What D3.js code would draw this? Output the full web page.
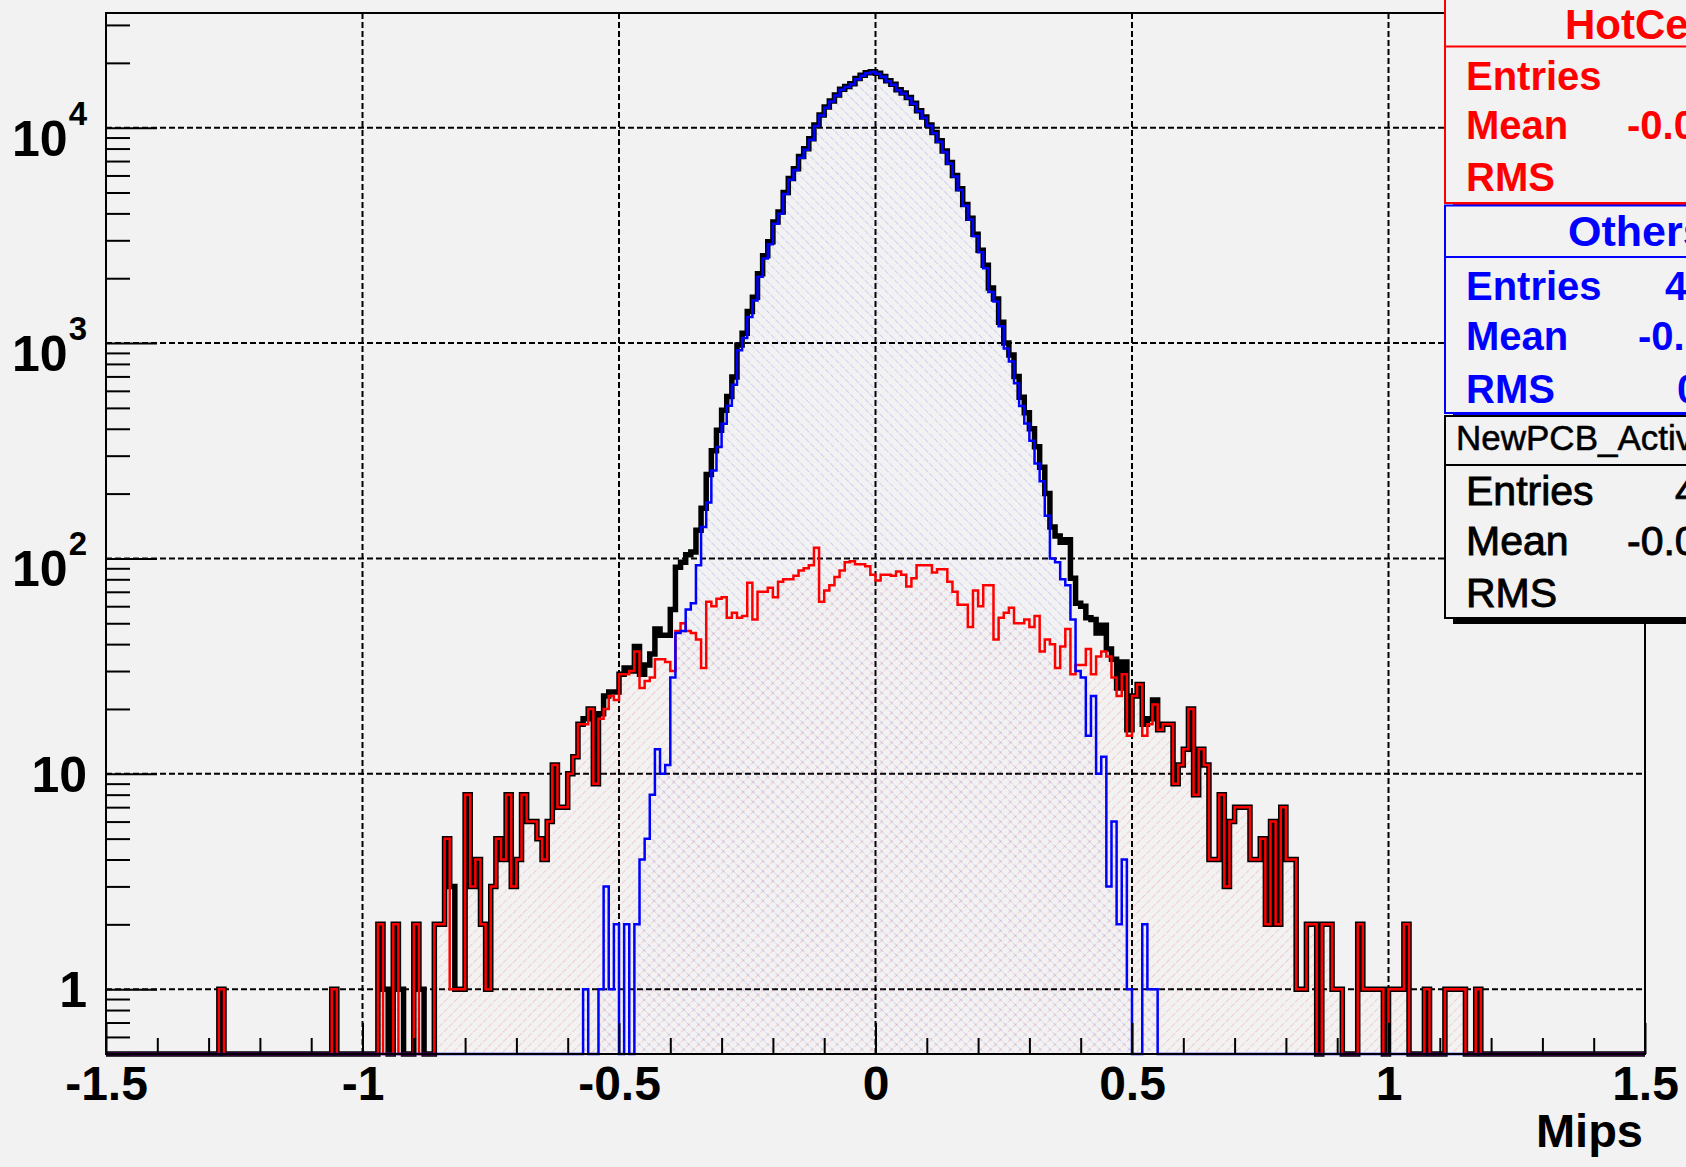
<!DOCTYPE html>
<html>
<head>
<meta charset="utf-8">
<script src="https://cdn.jsdelivr.net/npm/d3@7"></script>
<style>
  html, body { margin: 0; padding: 0; background: #f2f2f2; }
  svg { display: block; }
  text { font-family: "Liberation Sans", Arial, Helvetica, sans-serif; }
</style>
</head>
<body>
<svg id="chart" width="1686" height="1167"></svg>
<script>
// ---- Binning: 300 bins of 0.01 Mips from -1.5 to 1.5 ----
const binLow = -1.5;
const binWidth = 0.01;

// Counts per bin, ten bins per row (row k covers bins 10k .. 10k+9)
const hotCellCounts = [
  0,0,0,0,0,0,0,0,0,0,  0,0,0,0,0,0,0,0,0,0,  0,0,1,0,0,0,0,0,0,0,
  0,0,0,0,0,0,0,0,0,0,  0,0,0,0,1,0,0,0,0,0,  0,0,0,2,0,0,2,0,0,0,
  2,0,0,0,2,2,5,1,1,1,  8,3,4,2,1,3,5,4,8,3,  4,8,6,6,5,4,6,11,7,7,
  10,12,17,17,20,9,18,20,23,22,
  29,29,30,37,25,27,28,34,34,33,
  30,46,50,46,45,42,31,63,60,65,
  66,53,56,53,54,77,52,70,70,73,
  66,78,80,80,83,88,90,93,112,63,
  71,75,82,88,96,97,94,94,92,84,
  79,84,84,83,87,84,74,81,93,93,
  93,86,89,89,78,70,61,61,48,71,
  60,75,75,42,53,56,59,50,50,52,
  48,54,37,42,40,31,39,47,29,32,
  32,38,29,35,37,35,28,23,29,15,
  23,26,15,17,21,16,17,17,9,11,
  13,20,8,13,11,4,4,8,3,6,
  7,7,7,4,4,5,2,6,2,7,
  4,4,1,1,2,2,0,2,2,1,
  1,0,0,0,2,1,1,1,1,0,
  1,1,1,2,0,0,0,1,0,0,
  0,1,1,1,1,0,0,1,0,0,
  0,0,0,0,0,0,0,0,0,0,  0,0,0,0,0,0,0,0,0,0,  0,0,0,0,0,0,0,0,0,0
];

const otherCellCounts = [
  0,0,0,0,0,0,0,0,0,0,  0,0,0,0,0,0,0,0,0,0,  0,0,0,0,0,0,0,0,0,0,
  0,0,0,0,0,0,0,0,0,0,  0,0,0,0,0,0,0,0,0,0,  0,0,0,0,0,0,0,0,0,0,
  0,0,0,0,0,0,0,0,0,0,  0,0,0,0,0,0,0,0,0,0,  0,0,0,0,0,0,0,0,0,0,
  0,0,0,1,0,0,1,3,1,2,
  0,2,0,2,4,5,8,13,10,11,
  28,45,46,58,62,93,140,182,256,329,
  422,511,640,927,1056,1323,1578,2030,2470,2877,
  3584,3982,4920,5730,6367,7252,7900,8787,10188,11387,
  12389,13225,14118,15012,15454,15903,16806,17406,17908,18116,
  17821,17216,16416,15817,14913,14416,13726,12919,11907,11107,
  10207,9414,8611,7711,6822,5930,5139,4339,3752,3129,
  2640,2225,1725,1558,1197,944,821,650,510,423,
  352,276,228,158,100,96,80,75,52,30,
  28,15,23,10,12,3,6,2,4,1,
  0,0,2,1,1,0,0,0,0,0,
  0,0,0,0,0,0,0,0,0,0,  0,0,0,0,0,0,0,0,0,0,  0,0,0,0,0,0,0,0,0,0,
  0,0,0,0,0,0,0,0,0,0,  0,0,0,0,0,0,0,0,0,0,  0,0,0,0,0,0,0,0,0,0,
  0,0,0,0,0,0,0,0,0,0,  0,0,0,0,0,0,0,0,0,0,  0,0,0,0,0,0,0,0,0,0
];

const allCellCounts = [
  0,0,0,0,0,0,0,0,0,0,  0,0,0,0,0,0,0,0,0,0,  0,0,1,0,0,0,0,0,0,0,
  0,0,0,0,0,0,0,0,0,0,  0,0,0,0,1,0,0,0,0,0,  0,0,0,2,1,0,2,1,0,0,
  2,1,0,0,2,2,5,3,1,1,  8,3,4,2,1,3,5,4,8,3,  4,8,6,6,5,4,6,11,7,7,
  10,12,17,18,20,9,19,23,24,24,
  29,31,30,39,29,32,36,47,44,44,
  58,91,96,104,107,135,171,245,316,394,
  488,564,696,980,1110,1400,1630,2100,2540,2950,
  3650,4060,5000,5810,6450,7340,7990,8880,10300,11450,
  12460,13300,14200,15100,15550,16000,16900,17500,18000,18200,
  17900,17300,16500,15900,15000,14500,13800,13000,12000,11200,
  10300,9500,8700,7800,6900,6000,5200,4400,3800,3200,
  2700,2300,1800,1600,1250,1000,880,700,560,475,
  400,330,265,200,140,127,119,122,81,62,
  60,53,52,45,49,38,34,25,33,16,
  23,26,17,18,22,16,17,17,9,11,
  13,20,8,13,11,4,4,8,3,6,
  7,7,7,4,4,5,2,6,2,7,
  4,4,1,1,2,2,0,2,2,1,
  1,0,0,0,2,1,1,1,1,0,
  1,1,1,2,0,0,0,1,0,0,
  0,1,1,1,1,0,0,1,0,0,
  0,0,0,0,0,0,0,0,0,0,  0,0,0,0,0,0,0,0,0,0,  0,0,0,0,0,0,0,0,0,0
];

// ---- Axis ticks and labels ----
const xMajorTicks = [-1.5, -1, -0.5, 0, 0.5, 1, 1.5];
const xMajorLabels = ["-1.5", "-1", "-0.5", "0", "0.5", "1", "1.5"];
const xGridValues = [-1, -0.5, 0, 0.5, 1];
const yMajorTicks = [1, 10, 100, 1000, 10000];
const yLabelBase = ["1", "10", "10", "10", "10"];
const yLabelExp = ["", "", "2", "3", "4"];
const xTitle = "Mips";

// ---- Statistics boxes ----
const statTitles = ["HotCells", "Others", "NewPCB_ActiveCells"];
const statNames = ["Entries", "Mean", "RMS"];
const statValues = [
  ["7388", "-0.01004", "0.2713"],
  ["471356", "-0.002317", "0.1053"],
  ["478744", "-0.009421", "0.1168"]
];

// ---- Layout ----
const svg = d3.select("#chart");
const W = 1686, H = 1167;
const frame = { left: 106, right: 1645, top: 13, bottom: 1054 };
const yMin = 0.5, yMax = 34080;

svg.append("rect").attr("width", W).attr("height", H).attr("fill", "#f2f2f2");

const x = d3.scaleLinear().domain([-1.5, 1.5]).range([frame.left, frame.right]);
const y = d3.scaleLog().domain([yMin, yMax]).range([frame.bottom, frame.top]);

// Hatch fills
const defs = svg.append("defs");
function hatch(id, angle, color) {
  const p = defs.append("pattern")
    .attr("id", id)
    .attr("patternUnits", "userSpaceOnUse")
    .attr("width", 7).attr("height", 7)
    .attr("patternTransform", `rotate(${angle})`);
  p.append("line")
    .attr("x1", 0).attr("y1", 0).attr("x2", 0).attr("y2", 7)
    .attr("stroke", color).attr("stroke-width", 1.2)
    .attr("stroke-dasharray", "3,1.5");
}
hatch("hatchRed", 45, "rgba(240,90,90,0.42)");
hatch("hatchBlue", -45, "rgba(90,90,240,0.38)");

defs.append("clipPath").attr("id", "frameClip")
  .append("rect")
  .attr("x", frame.left).attr("y", frame.top)
  .attr("width", frame.right - frame.left)
  .attr("height", frame.bottom - frame.top);

// Grid
const grid = svg.append("g").attr("stroke", "#000").attr("stroke-width", 2)
  .attr("stroke-dasharray", "6,3");
grid.selectAll("line.gx").data(xGridValues).join("line")
  .attr("x1", d => x(d)).attr("x2", d => x(d))
  .attr("y1", frame.top).attr("y2", frame.bottom);
grid.selectAll("line.gy").data(yMajorTicks).join("line")
  .attr("x1", frame.left).attr("x2", frame.right)
  .attr("y1", d => y(d)).attr("y2", d => y(d));

// Step outline of a histogram, empty bins sit on the bottom edge
function stepPoints(counts) {
  const pts = [[x(binLow), frame.bottom]];
  counts.forEach((c, i) => {
    const yy = c > 0 ? y(Math.max(c, yMin)) : frame.bottom;
    pts.push([x(binLow + i * binWidth), yy]);
    pts.push([x(binLow + (i + 1) * binWidth), yy]);
  });
  pts.push([x(binLow + counts.length * binWidth), frame.bottom]);
  return pts;
}
const line = d3.line();
const area = d3.area().y0(frame.bottom).x(d => d[0]).y1(d => d[1]);

const plot = svg.append("g");
const fills = plot.append("g").attr("clip-path", "url(#frameClip)");
fills.append("path").attr("d", area(stepPoints(hotCellCounts))).attr("fill", "url(#hatchRed)");
fills.append("path").attr("d", area(stepPoints(otherCellCounts))).attr("fill", "url(#hatchBlue)");

plot.append("path").attr("d", line(stepPoints(allCellCounts)))
  .attr("fill", "none").attr("stroke", "#000").attr("stroke-width", 5.5)
  .attr("stroke-linejoin", "miter");
plot.append("path").attr("d", line(stepPoints(hotCellCounts)))
  .attr("fill", "none").attr("stroke", "#ff0000").attr("stroke-width", 2.5);
plot.append("path").attr("d", line(stepPoints(otherCellCounts)))
  .attr("fill", "none").attr("stroke", "#0000ff").attr("stroke-width", 2.5);

// X axis: major and minor ticks point into the frame
const xMinor = d3.range(-15, 16).map(k => k / 10).filter(v => Math.abs(v * 2 - Math.round(v * 2)) > 1e-6);
const xAxisMinor = svg.append("g").attr("transform", `translate(0,${frame.bottom})`)
  .call(d3.axisBottom(x).tickValues(xMinor).tickSize(-16).tickFormat(""));
const xAxisMajor = svg.append("g").attr("transform", `translate(0,${frame.bottom})`)
  .call(d3.axisBottom(x).tickValues(xMajorTicks).tickSize(-31)
    .tickFormat((d, i) => xMajorLabels[i]));
[xAxisMinor, xAxisMajor].forEach(g => {
  g.select(".domain").remove();
  g.selectAll(".tick line").attr("stroke", "#000").attr("stroke-width", 2);
});
xAxisMajor.selectAll(".tick text")
  .attr("y", 46).attr("dy", 0)
  .attr("font-size", 48).attr("font-weight", "bold").attr("fill", "#000")
  .attr("font-family", "'Liberation Sans', Arial, sans-serif");

svg.append("text").attr("x", 1643).attr("y", 1147)
  .attr("text-anchor", "end").attr("font-size", 47).attr("font-weight", "bold")
  .text(xTitle);

// Y axis: decades plus 2..9 minor ticks
const yMinor = [];
[0.1, 1, 10, 100, 1000, 10000].forEach(dec => {
  for (let m = 2; m <= 9; m++) {
    const v = dec * m;
    if (v >= yMin && v <= yMax) yMinor.push(v);
  }
});
const yAxisMinor = svg.append("g").attr("transform", `translate(${frame.left},0)`)
  .call(d3.axisLeft(y).tickValues(yMinor).tickSize(-24).tickFormat(""));
const yAxisMajor = svg.append("g").attr("transform", `translate(${frame.left},0)`)
  .call(d3.axisLeft(y).tickValues(yMajorTicks).tickSize(-51).tickFormat(""));
[yAxisMinor, yAxisMajor].forEach(g => {
  g.select(".domain").remove();
  g.selectAll(".tick line").attr("stroke", "#000").attr("stroke-width", 2);
});

const yLabels = svg.append("g").attr("font-size", 50).attr("font-weight", "bold")
  .attr("text-anchor", "end");
yMajorTicks.forEach((v, i) => {
  const hasExp = yLabelExp[i] !== "";
  const t = yLabels.append("text")
    .attr("x", 87)
    .attr("y", y(v) + (hasExp ? 28 : 18));
  t.append("tspan").text(yLabelBase[i]);
  if (hasExp) {
    t.append("tspan").attr("font-size", 33).attr("dy", -31).attr("dx", 1).text(yLabelExp[i]);
  }
});

// Frame
svg.append("rect")
  .attr("x", frame.left).attr("y", frame.top)
  .attr("width", frame.right - frame.left).attr("height", frame.bottom - frame.top)
  .attr("fill", "none").attr("stroke", "#000").attr("stroke-width", 2);

// Statistics boxes (stacked at the top right, running past the canvas edge)
const boxes = [
  { top: -10, bottom: 203, divider: 46.5, titleX: 1565, titleY: 39, titleSize: 42, titleWeight: "bold",
    rowY: [90, 139, 191], valueX: [1700, 1627, 1700], rowWeight: "bold", rowSize: 40,
    color: "#ff0000", shadow: "#ff0000", thicken: 0 },
  { top: 205.5, bottom: 413, divider: 257, titleX: 1568, titleY: 246, titleSize: 43, titleWeight: "bold",
    rowY: [300, 350, 403], valueX: [1665, 1638, 1677], rowWeight: "bold", rowSize: 40,
    color: "#0000ff", shadow: "#0000ff", thicken: 0 },
  { top: 416, bottom: 618, divider: 465, titleX: 1456, titleY: 450, titleSize: 35, titleWeight: "normal",
    rowY: [505, 555, 607], valueX: [1675, 1627, 1700], rowWeight: "normal", rowSize: 41,
    color: "#000000", shadow: "#000000", thicken: 0.9 }
];
const boxLeft = 1445, boxRight = 1900;
boxes.forEach((b, k) => {
  const g = svg.append("g");
  g.append("rect")
    .attr("x", boxLeft + 8).attr("y", b.bottom)
    .attr("width", boxRight - boxLeft).attr("height", k === 2 ? 6 : 3)
    .attr("fill", b.shadow);
  g.append("rect")
    .attr("x", boxLeft).attr("y", b.top)
    .attr("width", boxRight - boxLeft).attr("height", b.bottom - b.top)
    .attr("fill", "#f2f2f2").attr("stroke", b.color).attr("stroke-width", 2);
  g.append("line")
    .attr("x1", boxLeft).attr("x2", boxRight)
    .attr("y1", b.divider).attr("y2", b.divider)
    .attr("stroke", b.color).attr("stroke-width", 2);
  g.append("text").attr("x", b.titleX).attr("y", b.titleY)
    .attr("font-size", b.titleSize).attr("font-weight", b.titleWeight)
    .attr("fill", b.color)
    .attr("stroke", b.thicken ? b.color : "none").attr("stroke-width", b.thicken * 0.6)
    .text(statTitles[k]);
  statNames.forEach((name, r) => {
    g.append("text").attr("x", 1466).attr("y", b.rowY[r])
      .attr("font-size", b.rowSize).attr("font-weight", b.rowWeight)
      .attr("fill", b.color)
      .attr("stroke", b.thicken ? b.color : "none").attr("stroke-width", b.thicken)
      .text(name);
    g.append("text").attr("x", b.valueX[r]).attr("y", b.rowY[r])
      .attr("font-size", b.rowSize).attr("font-weight", b.rowWeight)
      .attr("fill", b.color)
      .attr("stroke", b.thicken ? b.color : "none").attr("stroke-width", b.thicken)
      .text(statValues[k][r]);
  });
});
</script>
</body>
</html>
